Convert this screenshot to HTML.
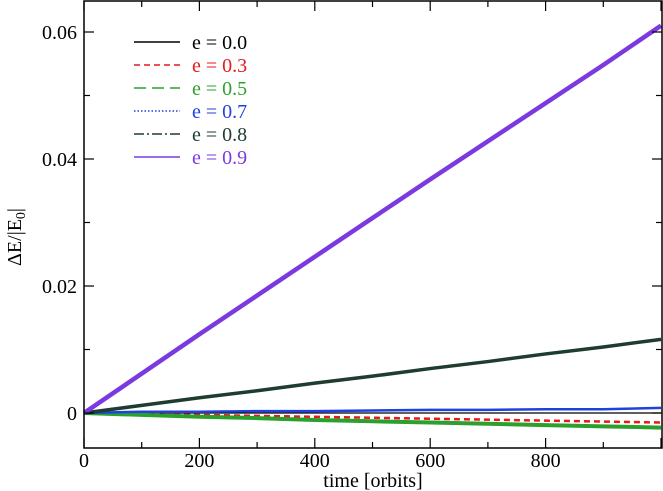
<!DOCTYPE html>
<html><head><meta charset="utf-8"><style>
html,body{margin:0;padding:0;background:#fff;}
svg{display:block;font-family:"Liberation Serif",serif;}
</style></head><body>
<svg id="chart" width="663" height="491" viewBox="0 0 663 491" xmlns="http://www.w3.org/2000/svg"></svg>
<script>
const times = [0,100,200,300,400,500,600,700,800,900,1000];
const e00 = [0,0,0,0,0,0,0,0,0,0,0];
const e03 = [0,-0.00015,-0.0003,-0.00045,-0.0006,-0.00075,-0.0009,-0.00105,-0.0012,-0.00135,-0.0015];
const e05 = [0,-0.0003,-0.0006,-0.0008,-0.0011,-0.0013,-0.0015,-0.0017,-0.0019,-0.0021,-0.0023];
const e07 = [0,0.0002,0.0002,0.0003,0.0003,0.0004,0.0005,0.0005,0.0006,0.0006,0.0008];
const e08 = [0,0.0012,0.0024,0.0035,0.0047,0.0058,0.007,0.0081,0.0093,0.0104,0.0116];
const e09 = [0,0.0062,0.0124,0.0185,0.0246,0.0307,0.0368,0.0428,0.0488,0.0548,0.061];
const xTicks = [0,200,400,600,800];
const yTicks = [0,0.02,0.04,0.06];
const yTickLabels = ["0","0.02","0.04","0.06"];
const seriesLabels = ["e = 0.0","e = 0.3","e = 0.5","e = 0.7","e = 0.8","e = 0.9"];

const L=84,R=662,T=1,B=448;
const X=v=>L+(v/1000)*(661-L);
const Y=v=>413-(v/0.02)*127;
const svg=document.getElementById('chart');
const NS='http://www.w3.org/2000/svg';
function mk(tag,attrs,parent){const e=document.createElementNS(NS,tag);for(const k in attrs)e.setAttribute(k,attrs[k]);(parent||svg).appendChild(e);return e;}

const series=[
 {d:e00,c:'#000',dash:'',w:1.2,lw:1.5},
 {d:e03,c:'#e41a1c',dash:'6,4',w:2.5,lw:1.5},
 {d:e05,c:'#2ca02c',dash:'',w:4,lw:1.5,ld:'12,6'},
 {d:e07,c:'#2040e0',dash:'',w:2.5,lw:1.5,ld:'1.5,2'},
 {d:e08,c:'#1e3d2e',dash:'',w:3.5,lw:1.5,ld:'10,3,2,3'},
 {d:e09,c:'#7a3ae0',dash:'',w:4.5,lw:1.5}
];
series.forEach((s,i)=>{
  const p=mk('polyline',{points:s.d.map((v,j)=>X(times[j])+','+Y(v)).join(' '),fill:'none',stroke:s.c,'stroke-width':s.w,'stroke-dasharray':s.dash});
  
  
});

const fr=mk('rect',{x:L,y:T,width:R-L,height:B-T,fill:'none',stroke:'#000','stroke-width':1.5});



for(let v=0;v<=1000;v+=100){
  const len=(v%200===0)?10:6;
  mk('line',{x1:X(v),x2:X(v),y1:B,y2:B-len,stroke:'#000','stroke-width':1.2});
  mk('line',{x1:X(v),x2:X(v),y1:T,y2:T+len,stroke:'#000','stroke-width':1.2});
}
xTicks.forEach(v=>{
  const t=mk('text',{x:X(v),y:467,'text-anchor':'middle','font-size':20});
  t.textContent=v;
  
  
});
for(let k=0;k<=6;k++){
  const v=k*0.01;const len=(k%2===0)?10:6;
  mk('line',{x1:L,x2:L+len,y1:Y(v),y2:Y(v),stroke:'#000','stroke-width':1.2});
  mk('line',{x1:R,x2:R-len,y1:Y(v),y2:Y(v),stroke:'#000','stroke-width':1.2});
}
yTicks.forEach((v,i)=>{
  const t=mk('text',{x:77,y:Y(v)+7,'text-anchor':'end','font-size':20});
  t.textContent=yTickLabels[i];
  
  
});
const xt=mk('text',{x:373,y:487,'text-anchor':'middle','font-size':20});
xt.textContent='time [orbits]';


const yt=mk('text',{x:0,y:0,'text-anchor':'middle','font-size':20,transform:'translate(21,237) rotate(-90)'});
yt.innerHTML='ΔE/|E<tspan font-size="14" dy="4">0</tspan><tspan dy="-4">|</tspan>';



const rows=[42,65,88,111,134,157];
series.forEach((s,i)=>{
  const g=mk('g',{});
  
  
  mk('line',{x1:134,x2:180,y1:rows[i],y2:rows[i],stroke:s.c,'stroke-width':s.lw,'stroke-dasharray':s.ld||s.dash},g);
  const t=mk('text',{x:192,y:rows[i]+7,'font-size':20,fill:s.c},g);
  t.textContent=seriesLabels[i];
});
</script>
</body></html>
